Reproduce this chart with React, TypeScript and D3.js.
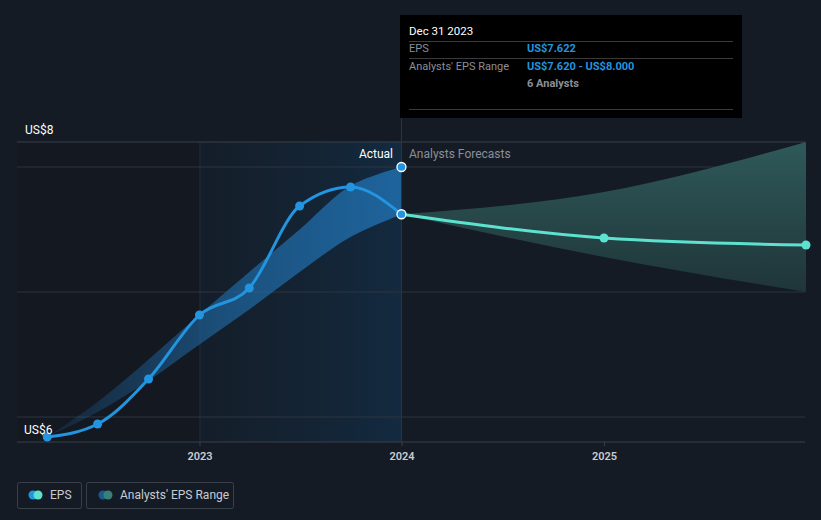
import React from "react";
import * as d3 from "d3";

const pastDates = ["2022-03-31", "2022-06-30", "2022-09-30", "2022-12-31", "2023-03-31", "2023-06-30", "2023-09-30", "2023-12-31"];
const pastEps = [5.84, 5.944, 6.304, 6.816, 7.032, 7.688, 7.84, 7.622];
const pastRangeLow = [5.84, 6.04, 6.29, 6.58, 6.86, 7.16, 7.44, 7.62];
const pastRangeHigh = [5.84, 6.12, 6.46, 6.82, 7.16, 7.5, 7.85, 8.0];

const fcDates = ["2023-12-31", "2024-12-31", "2025-12-31"];
const fcEps = [7.622, 7.432, 7.376];
const fcLow = [7.622, 7.28, 7.0];
const fcHigh = [7.622, 7.8, 8.2];

const yTicks = [6, 7, 8];
const xTicks = ["2023", "2024", "2025"];

const parse = (s: string) => new Date(s + "T00:00:00");

export default function App() {
  const W = 821, H = 520;
  const x = d3.scaleTime().domain([parse("2023-01-01"), parse("2024-01-01")]).range([200, 402]);
  const y = d3.scaleLinear().domain([6, 8]).range([417, 167]);
  const left = 17, right = 805, top = y(8.2), bottom = y(5.8);
  const nowX = x(parse("2023-12-31"));
  const startShade = x(parse("2023-01-01"));

  const past = pastDates.map((d, i) => ({ d: parse(d), v: pastEps[i], lo: pastRangeLow[i], hi: pastRangeHigh[i] }));
  const fc = fcDates.map((d, i) => ({ d: parse(d), v: fcEps[i], lo: fcLow[i], hi: fcHigh[i] }));

  const line = d3.line<any>().x(p => x(p.d)).y(p => y(p.v)).curve(d3.curveMonotoneX);
  const areaPast = d3.area<any>().x(p => x(p.d)).y0(p => y(p.lo)).y1(p => y(p.hi)).curve(d3.curveCatmullRom.alpha(0.5));
  const areaFc = d3.area<any>().x(p => x(p.d)).y0(p => y(p.lo)).y1(p => y(p.hi)).curve(d3.curveMonotoneX);

  const font = "Roboto, 'Open Sans', sans-serif";
  const blue = "#2394df";
  const teal = "#5de2cf";
  const x0 = x(past[0].d);

  return (
    <svg width={W} height={H} style={{ position: "absolute", left: 0, top: 0, background: "#151b25", fontFamily: font }}>
      <defs>
        <linearGradient id="shade" gradientUnits="userSpaceOnUse" x1={startShade} x2={nowX} y1={0} y2={0}>
          <stop offset="0" stopColor="#14202d" stopOpacity={0.6} />
          <stop offset="1" stopColor="#132a40" stopOpacity={1} />
        </linearGradient>
        <linearGradient id="pastBand" gradientUnits="userSpaceOnUse" x1={x0} x2={nowX} y1={0} y2={0}>
          <stop offset="0" stopColor="#1f6aa6" stopOpacity={0.15} />
          <stop offset="0.5" stopColor="#1f6aa6" stopOpacity={0.65} />
          <stop offset="1" stopColor="#1f6aa6" stopOpacity={0.9} />
        </linearGradient>
        <linearGradient id="fcBand" gradientUnits="userSpaceOnUse" x1={0} x2={0} y1={top} y2={y(7.0)}>
          <stop offset="0" stopColor="#2f5959" />
          <stop offset="1" stopColor="#1f3539" />
        </linearGradient>
      </defs>
      <rect x={0} y={0} width={W} height={H} fill="#151b25" />
      <rect x={left} y={top} width={startShade - left} height={bottom - top} fill="#12161e" fillOpacity={0.5} />
      <rect x={startShade} y={top} width={nowX - startShade} height={bottom - top} fill="url(#shade)" />
      <line x1={startShade} x2={startShade} y1={top} y2={bottom} stroke="#1c2e40" strokeWidth={1} />
      {/* grid */}
      <line x1={left} x2={right} y1={top} y2={top} stroke="#3a404a" strokeWidth={1} />
      {yTicks.map(t => (
        <line key={t} x1={left} x2={right} y1={y(t)} y2={y(t)} stroke="#2e343e" strokeWidth={1} />
      ))}
      <line x1={left} x2={right} y1={bottom} y2={bottom} stroke="#3a404a" strokeWidth={1} />
      {/* bands */}
      <path d={areaPast(past) || ""} fill="url(#pastBand)" />
      <path d={areaFc(fc) || ""} fill="url(#fcBand)" />
      {/* now line */}
      <line x1={nowX} x2={nowX} y1={15} y2={bottom} stroke="#233850" strokeWidth={1} />
      {/* lines */}
      <path d={line(past) || ""} fill="none" stroke={blue} strokeWidth={3} />
      <path d={line(fc) || ""} fill="none" stroke={teal} strokeWidth={3} />
      {past.slice(0, -1).map((p, i) => (
        <circle key={i} cx={x(p.d)} cy={y(p.v)} r={4.5} fill={blue} />
      ))}
      {fc.slice(1).map((p, i) => (
        <circle key={i} cx={x(p.d)} cy={y(p.v)} r={4.5} fill={teal} />
      ))}
      <circle cx={nowX} cy={y(8.0)} r={4.5} fill={blue} stroke="#fff" strokeWidth={1.3} />
      <circle cx={nowX} cy={y(7.622)} r={4.5} fill={blue} stroke="#fff" strokeWidth={1.3} />
      {/* labels */}
      <text x={393} y={158} textAnchor="end" fill="#fff" fontSize={12}>Actual</text>
      <text x={409} y={158} fill="#8a8f98" fontSize={12}>Analysts Forecasts</text>
      <text x={25} y={134} fill="#fff" fontSize={12}>US$8</text>
      <text x={24} y={434} fill="#fff" fontSize={12}>US$6</text>
      {xTicks.map(t => {
        const xx = x(parse(t + "-01-01"));
        return (
          <g key={t}>
            <line x1={xx} x2={xx} y1={bottom} y2={bottom + 4} stroke="#3a404a" />
            <text x={xx} y={460} textAnchor="middle" fill="#c8ccd2" fontSize={11} fontWeight={600}>{t}</text>
          </g>
        );
      })}
      {/* tooltip */}
      <rect x={400} y={15} width={342} height={103} fill="#000" />
      <text x={409} y={35} fill="#fff" fontSize={11.5}>Dec 31 2023</text>
      <line x1={409} x2={733} y1={41.5} y2={41.5} stroke="#3a3a3a" />
      <text x={409} y={52} fill="#8a8f98" fontSize={11}>EPS</text>
      <text x={527} y={52} fill={blue} fontSize={11} fontWeight={700}>US$7.622</text>
      <line x1={409} x2={733} y1={58.5} y2={58.5} stroke="#3a3a3a" />
      <text x={409} y={70} fill="#8a8f98" fontSize={11}>Analysts' EPS Range</text>
      <text x={527} y={70} fill={blue} fontSize={11} fontWeight={700}>US$7.620 - US$8.000</text>
      <text x={527} y={87} fill="#8a8f98" fontSize={11} fontWeight={700}>6 Analysts</text>
      <line x1={409} x2={733} y1={109.5} y2={109.5} stroke="#3a3a3a" />
      {/* legend */}
      <rect x={17.5} y={482.5} width={64} height={26} rx={2} fill="none" stroke="#3a404a" />
      <circle cx={33} cy={495} r={4.5} fill={blue} />
      <circle cx={38} cy={495} r={4.5} fill={teal} />
      <text x={50} y={499} fill="#c8ccd2" fontSize={12}>EPS</text>
      <rect x={86.5} y={482.5} width={147} height={26} rx={2} fill="none" stroke="#3a404a" />
      <circle cx={103} cy={495} r={4.5} fill="#1d5a8a" />
      <circle cx={108} cy={495} r={4.5} fill="#3a7f7a" />
      <text x={120} y={499} fill="#c8ccd2" fontSize={12}>Analysts' EPS Range</text>
    </svg>
  );
}
